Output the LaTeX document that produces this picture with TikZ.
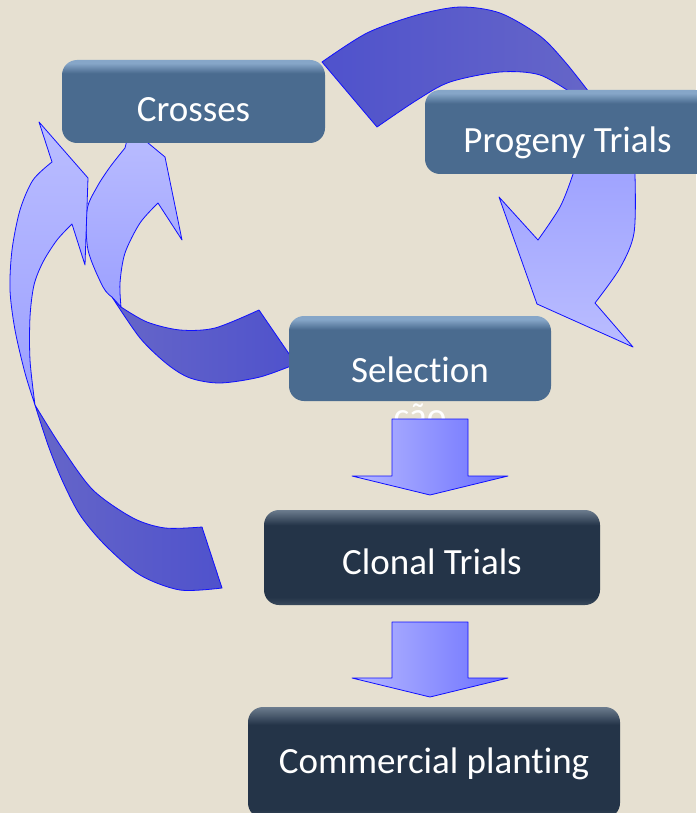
\documentclass[tikz,border=0pt]{standalone}
\usepackage{fontspec}
\setmainfont{Carlito}[Ligatures=NoCommon]

\definecolor{bgbeige}{HTML}{E6E0D1}
\definecolor{boxblue}{HTML}{4A6B8F}
\definecolor{boxbluetop}{HTML}{86A6C8}
\definecolor{boxdark}{HTML}{243448}
\definecolor{boxdarktop}{HTML}{6C7C8E}
\definecolor{boxdarkbottom}{HTML}{3A4A5C}
\definecolor{arrowline}{HTML}{1010FF}
\definecolor{arrowdark}{HTML}{4F52CC}
\definecolor{arrowmid}{HTML}{6666C8}
\definecolor{arrowlight}{HTML}{BABDFF}
\definecolor{arrowpale}{HTML}{9CA0FF}
\definecolor{shaftlight}{HTML}{B6B9FF}
\definecolor{shaftdark}{HTML}{6A6EFF}

\pgfdeclareverticalshading{stageblue}{100bp}{color(0bp)=(boxblue); color(25bp)=(boxblue); color(67bp)=(boxblue); color(73bp)=(boxbluetop); color(75bp)=(boxbluetop); color(100bp)=(boxbluetop)}
\pgfdeclareverticalshading{stagedark}{100bp}{color(0bp)=(boxdarkbottom); color(25bp)=(boxdarkbottom); color(29bp)=(boxdark); color(67bp)=(boxdark); color(75bp)=(boxdarktop); color(100bp)=(boxdarktop)}

\begin{document}
\begin{tikzpicture}[x=1pt, y=-1pt] %breeding cycle
    \tikzstyle{stagebox} = [rounded corners=15pt, inner sep=0pt, text=white, font=\fontsize{37}{40}\selectfont, text depth=0pt, text height=41pt]
    \tikzstyle{lightstage} = [stagebox, shade, shading=stageblue]
    \tikzstyle{darkstage} = [stagebox, shade, shading=stagedark]
    \tikzstyle{band} = [draw=arrowline, line width=0.8pt, line join=round]
    \tikzstyle{bandlight} = [band, top color=arrowlight, bottom color=arrowpale]
    \tikzstyle{banddark} = [band, left color=arrowmid, right color=arrowdark]
    \tikzstyle{shaftarrow} = [band, left color=shaftlight, right color=shaftdark]

    \fill[bgbeige] (0,0) rectangle (696,813);
    \useasboundingbox (0,0) rectangle (696,813);

    % Crosses -> Progeny Trials
    \path[band, left color=arrowdark, right color=arrowmid] (322,62) -- plot[smooth] coordinates {(322,62) (367,33) (417,15) (460,7) (500,13) (540,36) (566,63) (592,96)}
        -- (576,96) -- plot[smooth] coordinates {(576,96) (540,75) (500,72) (450,82) (417,100) (377,127)} -- cycle;
    % Progeny Trials -> Selection
    \path[band, top color=arrowpale, bottom color=arrowlight] (579,150) -- plot[smooth] coordinates {(579,150) (573,174) (560,207) (538,240)}
        -- (499,197) -- (537,304) -- (633,347) -- (595,303)
        -- plot[smooth] coordinates {(595,303) (620,268) (634,233) (635,175) (632,150)} -- cycle;

    % Selection -> Crosses
    \path[banddark] (121,307) -- plot[smooth] coordinates {(121,307) (147,322) (180,330) (215,328) (259,310)}
        -- (296,364) -- plot[smooth] coordinates {(296,364) (260,377) (220,383) (190,378) (167,364) (140,338) (112,297)} -- cycle;
    \path[bandlight] (112,297) -- plot[smooth] coordinates {(112,297) (103,287) (88,250) (87,210) (97,187) (110,167) (125,148)}
        -- (130,128) -- (165,157) -- (182,240) -- (158,203)
        -- plot[smooth] coordinates {(158,203) (140,223) (125,253) (120,283) (121,307)} -- cycle;

    % Clonal Trials -> Crosses
    \path[banddark] (35,405) -- plot[smooth] coordinates {(35,405) (62,448) (93,490) (133,518) (165,528) (202,527)}
        -- (222,588) -- plot[smooth] coordinates {(222,588) (180,590) (140,575) (105,545) (80,515) (62,480) (48,445) (35,405)} -- cycle;
    \path[bandlight] (35,405) -- plot[smooth] coordinates {(35,405) (25,373) (15,330) (10,290) (12,250) (20,210) (33,180) (52,162)}
        -- (39,122) -- (88,178) -- (85,265) -- (72,224)
        -- plot[smooth] coordinates {(72,224) (57,240) (43,262) (34,285) (30,317) (30,360) (35,405)} -- cycle;

    \node[lightstage, minimum width=263pt, minimum height=83pt] (crosses) at (193.5,101.5) {Crosses};
    \node[lightstage, minimum width=285pt, minimum height=84pt, text height=42pt] (progeny) at (567.5,132) {Progeny Trials};
    \node[lightstage, minimum width=262pt, minimum height=85pt, text height=47pt] (selection) at (420,358.5) {Selection};
    \node[text=white, font=\fontsize{37}{40}\selectfont, anchor=base, inner sep=0pt] (cao) at (420,428) {ção};
    \node[darkstage, minimum width=336pt, minimum height=95pt, text height=33pt] (clonal) at (432,557.5) {Clonal Trials};
    \node[darkstage, minimum width=372pt, minimum height=111pt, text height=21pt] (commercial) at (434,762.5) {Commercial planting};

    % down arrows
    \foreach \ytop/\yneck/\ytip in {419/476/495, 622/678/697}
    {
        \path[shaftarrow] (392,\ytop) -- (468,\ytop) -- (468,\yneck) -- (508,\yneck) -- (430,\ytip) -- (352,\yneck) -- (392,\yneck) -- cycle;
    }
\end{tikzpicture}
\end{document}
